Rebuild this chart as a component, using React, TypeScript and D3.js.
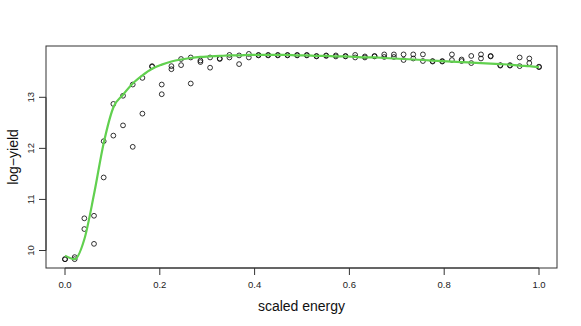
import React from 'react';
import * as d3 from 'd3';

// scaled energy grid (50 settings, two replicate runs each)
const energy = [
  0, 0.0204, 0.0408, 0.0612, 0.0816, 0.102, 0.1224, 0.1429, 0.1633, 0.1837,
  0.2041, 0.2245, 0.2449, 0.2653, 0.2857, 0.3061, 0.3265, 0.3469, 0.3673, 0.3878,
  0.4082, 0.4286, 0.449, 0.4694, 0.4898, 0.5102, 0.5306, 0.551, 0.5714, 0.5918,
  0.6122, 0.6327, 0.6531, 0.6735, 0.6939, 0.7143, 0.7347, 0.7551, 0.7755, 0.7959,
  0.8163, 0.8367, 0.8571, 0.8776, 0.898, 0.9184, 0.9388, 0.9592, 0.9796, 1,
];

const yieldA = [
  9.83, 9.87, 10.63, 10.68, 12.14, 12.87, 13.03, 13.25, 13.38, 13.61,
  13.25, 13.61, 13.75, 13.78, 13.72, 13.78, 13.76, 13.83, 13.82, 13.85,
  13.83, 13.83, 13.83, 13.83, 13.83, 13.83, 13.81, 13.82, 13.82, 13.81,
  13.83, 13.8, 13.81, 13.84, 13.84, 13.84, 13.84, 13.84, 13.71, 13.71,
  13.84, 13.74, 13.81, 13.84, 13.81, 13.63, 13.63, 13.78, 13.76, 13.6,
];

const yieldB = [
  9.83, 9.83, 10.42, 10.13, 11.43, 12.25, 12.45, 12.03, 12.68, 13.6,
  13.06, 13.55, 13.63, 13.27, 13.69, 13.58, 13.75, 13.78, 13.65, 13.78,
  13.82, 13.82, 13.82, 13.82, 13.82, 13.82, 13.8, 13.81, 13.8, 13.8,
  13.78, 13.78, 13.8, 13.79, 13.79, 13.73, 13.76, 13.71, 13.7, 13.7,
  13.73, 13.71, 13.67, 13.76, 13.8, 13.62, 13.62, 13.61, 13.67, 13.59,
];

// smooth fit drawn in green
const fitted = [
  9.9, 9.83, 10.22, 11.1, 12.1, 12.8, 13.05, 13.27, 13.43, 13.56,
  13.64, 13.7, 13.74, 13.77, 13.79, 13.8, 13.81, 13.82, 13.82, 13.83,
  13.83, 13.83, 13.83, 13.83, 13.82, 13.82, 13.81, 13.81, 13.8, 13.8,
  13.79, 13.78, 13.78, 13.77, 13.76, 13.75, 13.74, 13.73, 13.72, 13.71,
  13.7, 13.69, 13.68, 13.67, 13.66, 13.65, 13.64, 13.62, 13.61, 13.59,
];

const xTicks = [0, 0.2, 0.4, 0.6, 0.8, 1.0];
const yTicks = [10, 11, 12, 13];

const W = 581;
const H = 326;
const box = { left: 46, right: 557, top: 46, bottom: 268 };
const font = '"Liberation Sans", Arial, Helvetica, sans-serif';

export default function App() {
  const x = d3.scaleLinear().domain([0, 1]).range([65, 539]);
  const y = d3.scaleLinear().domain([10, 13]).range([250.5, 97.3]);

  const line = d3
    .line<number>()
    .x((_, i) => x(energy[i]))
    .y((d) => y(d))
    .curve(d3.curveMonotoneX);

  const points = [
    ...yieldA.map((v, i) => [energy[i], v]),
    ...yieldB.map((v, i) => [energy[i], v]),
  ];

  return (
    <div style={{ position: 'fixed', left: 0, top: 0, background: 'white' }}>
      <svg width={W} height={H} fontFamily={font}>
        <rect width={W} height={H} fill="white" />
        {/* points */}
        {points.map(([e, v], i) => (
          <circle key={i} cx={x(e)} cy={y(v)} r={2.4} fill="none" stroke="#000" strokeWidth={0.8} />
        ))}
        {/* fitted curve */}
        <path d={line(fitted) || ''} fill="none" stroke="#61D04F" strokeWidth={2.2} />
        {/* box */}
        <rect
          x={box.left}
          y={box.top}
          width={box.right - box.left}
          height={box.bottom - box.top}
          fill="none"
          stroke="#333"
          strokeWidth={1}
        />
        {/* x axis */}
        <line x1={x(0)} x2={x(1)} y1={box.bottom} y2={box.bottom} stroke="#333" />
        {xTicks.map((t) => (
          <g key={t} transform={`translate(${x(t)},${box.bottom})`}>
            <line y2={7} stroke="#333" />
            <text y={20} textAnchor="middle" fontSize={9.5} fill="#222">
              {t.toFixed(1)}
            </text>
          </g>
        ))}
        {/* y axis */}
        <line x1={box.left} x2={box.left} y1={y(10)} y2={y(13)} stroke="#333" />
        {yTicks.map((t) => (
          <g key={t} transform={`translate(${box.left},${y(t)})`}>
            <line x2={-7} stroke="#333" />
            <text transform="translate(-12,0) rotate(-90)" textAnchor="middle" fontSize={9.5} fill="#222">
              {t}
            </text>
          </g>
        ))}
        <text x={(box.left + box.right) / 2} y={311} textAnchor="middle" fontSize={14} fill="#111">
          scaled energy
        </text>
        <text
          transform={`translate(18,${(box.top + box.bottom) / 2}) rotate(-90)`}
          textAnchor="middle"
          fontSize={14}
          fill="#111"
        >
          log−yield
        </text>
      </svg>
    </div>
  );
}
